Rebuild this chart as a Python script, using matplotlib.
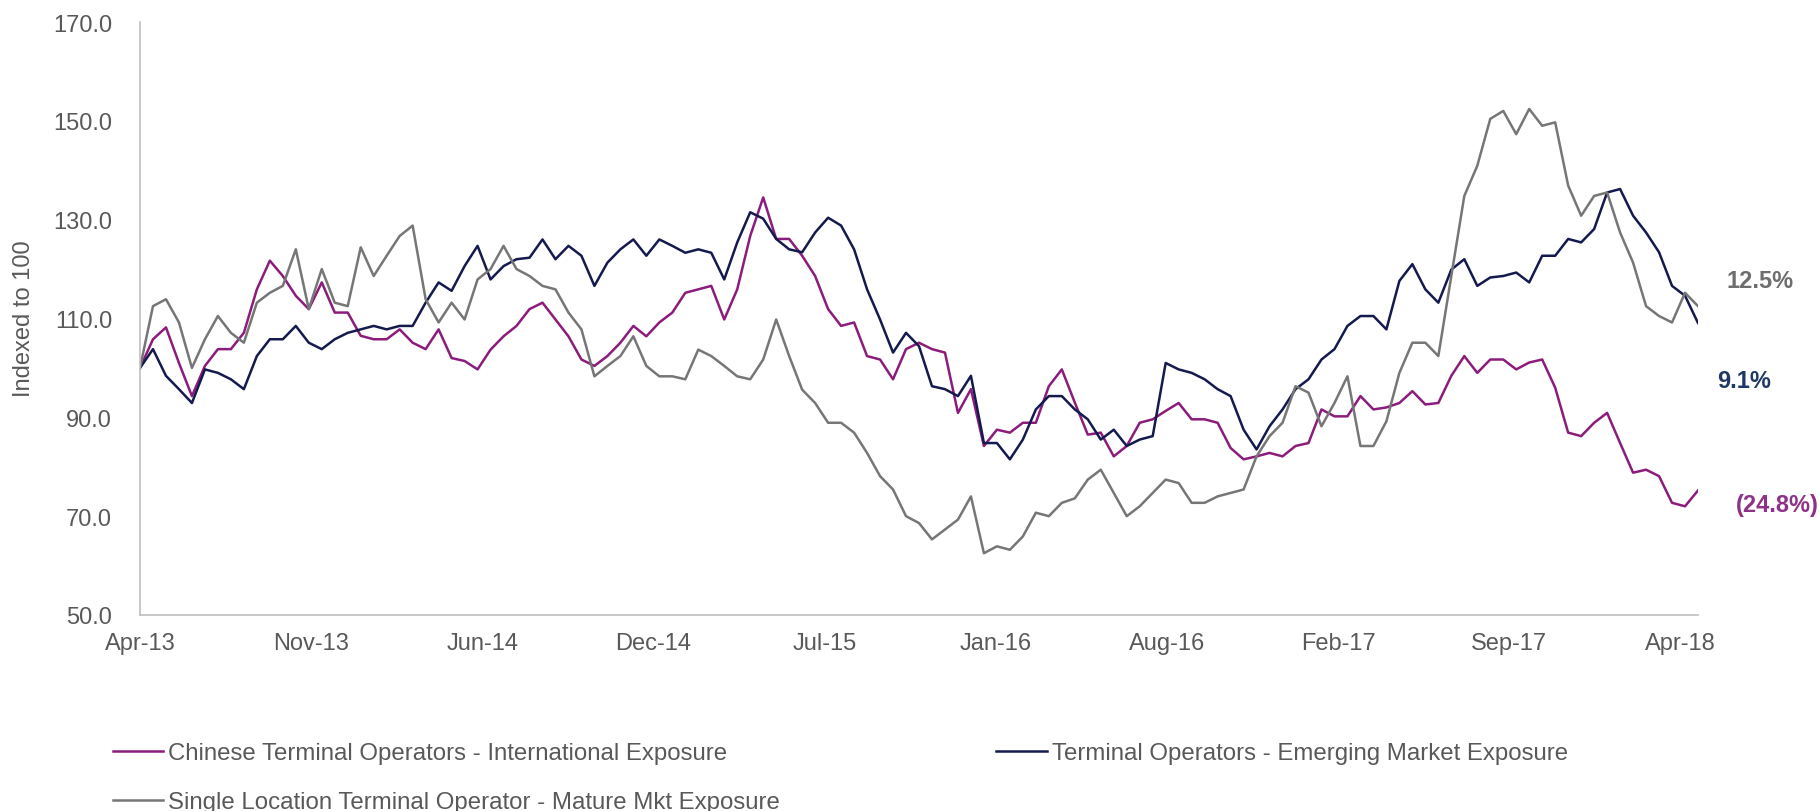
import numpy as np
import matplotlib
matplotlib.use('Agg')
import matplotlib.pyplot as plt
from matplotlib.ticker import FormatStrFormatter

plt.rcParams['font.family'] = ['Liberation Sans', 'DejaVu Sans']

# readings taken every 11 trading days from the start of the series
day_step = 11
label_step = 145

tick_labels = ['Apr-13', 'Nov-13', 'Jun-14', 'Dec-14', 'Jul-15',
               'Jan-16', 'Aug-16', 'Feb-17', 'Sep-17', 'Apr-18']

chinese = [100.0, 105.8, 108.2, 101.0, 94.3, 100.4, 103.8, 103.8, 107.1, 115.9,
           121.7, 118.6, 114.6, 111.9, 117.3, 111.2, 111.2, 106.5, 105.8, 105.8,
           107.8, 105.1, 103.8, 107.8, 102.0, 101.4, 99.7, 103.7, 106.4, 108.5,
           111.9, 113.2, 109.8, 106.4, 101.7, 100.4, 102.4, 105.1, 108.5, 106.4,
           109.2, 111.2, 115.2, 115.9, 116.6, 109.8, 115.9, 126.7, 134.5, 126.1,
           126.1, 122.7, 118.6, 111.9, 108.5, 109.2, 102.4, 101.7, 97.7, 103.8,
           105.1, 103.8, 103.1, 90.9, 95.7, 84.2, 87.5, 86.9, 88.9, 88.9,
           96.3, 99.7, 93.0, 86.5, 86.9, 82.1, 84.2, 88.9, 89.6, 91.3,
           92.9, 89.6, 89.6, 88.9, 83.8, 81.5, 82.1, 82.8, 82.1, 84.2,
           84.8, 91.6, 90.2, 90.2, 94.3, 91.6, 92.0, 92.9, 95.3, 92.6,
           92.9, 98.4, 102.4, 99.0, 101.7, 101.7, 99.7, 101.1, 101.7, 96.0,
           86.9, 86.2, 88.9, 90.9, 84.8, 78.8, 79.4, 78.1, 72.7, 72.0, 75.2]

emerging = [100.0, 103.8, 98.4, 95.7, 92.9, 99.7, 99.0, 97.7, 95.7, 102.4,
            105.8, 105.8, 108.5, 105.1, 103.8, 105.8, 107.1, 107.8, 108.5, 107.8,
            108.5, 108.5, 113.2, 117.3, 115.6, 120.6, 124.7, 117.9, 120.6, 122.0,
            122.3, 126.0, 122.0, 124.7, 122.7, 116.6, 121.3, 124.0, 126.0, 122.7,
            126.0, 124.7, 123.3, 124.0, 123.3, 117.9, 125.4, 131.5, 130.2, 126.1,
            124.0, 123.4, 127.4, 130.4, 128.8, 124.0, 115.9, 109.8, 103.1, 107.1,
            104.4, 96.3, 95.7, 94.3, 98.4, 84.8, 84.8, 81.5, 85.5, 91.6,
            94.3, 94.3, 91.6, 89.6, 85.5, 87.5, 84.2, 85.5, 86.2, 101.0,
            99.7, 99.0, 97.7, 95.7, 94.3, 87.5, 83.5, 88.2, 91.6, 95.7,
            97.7, 101.7, 103.8, 108.5, 110.5, 110.5, 107.8, 117.6, 121.0, 115.9,
            113.2, 119.9, 122.0, 116.6, 118.3, 118.6, 119.3, 117.3, 122.7, 122.7,
            126.1, 125.4, 128.1, 135.5, 136.2, 130.8, 127.4, 123.4, 116.6, 114.6, 109.1]

single = [100.0, 112.5, 113.9, 109.2, 100.0, 105.8, 110.5, 107.1, 105.1, 113.2,
          115.2, 116.6, 124.0, 111.9, 120.0, 113.2, 112.5, 124.4, 118.6, 122.7,
          126.7, 128.8, 113.9, 109.2, 113.2, 109.8, 117.9, 120.0, 124.7, 120.0,
          118.6, 116.6, 115.9, 111.2, 107.8, 98.3, 100.4, 102.4, 106.4, 100.4,
          98.3, 98.3, 97.7, 103.7, 102.4, 100.4, 98.3, 97.7, 101.7, 109.8,
          102.4, 95.6, 92.9, 88.9, 88.9, 86.9, 82.8, 78.1, 75.4, 70.0,
          68.6, 65.3, 67.3, 69.3, 74.0, 62.5, 63.9, 63.2, 65.9, 70.7,
          70.0, 72.7, 73.6, 77.4, 79.4, 74.7, 70.0, 72.0, 74.7, 77.4,
          76.7, 72.7, 72.7, 74.0, 74.7, 75.4, 82.1, 86.2, 88.9, 96.3,
          95.0, 88.2, 92.9, 98.3, 84.2, 84.2, 89.2, 99.0, 105.1, 105.1,
          102.4, 118.6, 134.8, 140.9, 150.4, 152.0, 147.3, 152.4, 149.0, 149.7,
          136.9, 130.8, 134.8, 135.5, 127.4, 121.3, 112.5, 110.5, 109.2, 115.2, 112.5]

names = ['Chinese Terminal Operators - International Exposure',
         'Terminal Operators - Emerging Market Exposure',
         'Single Location Terminal Operator - Mature Mkt Exposure']
end_labels = ['(24.8%)', '9.1%', '12.5%']

c_mag = '#8B1C7C'
c_navy = '#141A4E'
c_gray = '#767676'
txt = '#595959'

W, H = 1820, 812
fig = plt.figure(figsize=(W / 100, H / 100), dpi=100)
ax = fig.add_axes([140 / W, 1 - 616 / H, (1698 - 140) / W, (616 - 23) / H])

days = np.arange(len(chinese)) * day_step
l1, = ax.plot(days, chinese, color=c_mag, lw=1.8, label=names[0])
l2, = ax.plot(days, emerging, color=c_navy, lw=1.8, label=names[1])
l3, = ax.plot(days, single, color=c_gray, lw=1.8, label=names[2])

ax.set_xlim(0, days[-1])
ax.set_ylim(50, 170)
ax.set_yticks(range(50, 171, 20))
ax.yaxis.set_major_formatter(FormatStrFormatter('%.1f'))
ax.set_xticks(np.arange(len(tick_labels)) * label_step)
ax.set_xticklabels(tick_labels)
ax.tick_params(axis='both', length=0, labelsize=17, colors=txt)
ax.tick_params(axis='y', pad=20)
ax.tick_params(axis='x', pad=12)

for s in ['top', 'right']:
    ax.spines[s].set_visible(False)
for s in ['left', 'bottom']:
    ax.spines[s].set_color('#BFBFBF')
    ax.spines[s].set_linewidth(1.2)

fig.text(24 / W, 1 - 319 / H, 'Indexed to 100', rotation=90, ha='center',
         va='center', fontsize=17, color=txt)

# end-of-period returns
fig.text(1777 / W, 1 - 506 / H, end_labels[0], ha='center', va='center',
         fontsize=17, fontweight='bold', color='#8E3288')
fig.text(1744 / W, 1 - 382 / H, end_labels[1], ha='center', va='center',
         fontsize=17, fontweight='bold', color='#1F3864')
fig.text(1760 / W, 1 - 281 / H, end_labels[2], ha='center', va='center',
         fontsize=17, fontweight='bold', color='#6E6E6E')

fig.legend([l1, l3, l2], [names[0], names[2], names[1]], ncol=2,
           loc='upper left', bbox_to_anchor=(113 / W, 1 - 743 / H),
           frameon=False, fontsize=17.3, labelcolor=txt, borderpad=0,
           borderaxespad=0, handlelength=2.1, handletextpad=0.2,
           columnspacing=9.0, labelspacing=1.14)

fig.savefig('out.png', dpi=100)
